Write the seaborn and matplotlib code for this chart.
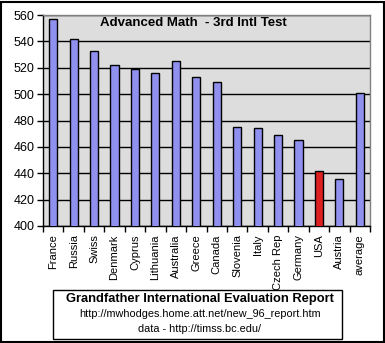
import matplotlib
matplotlib.use("Agg")
import matplotlib.pyplot as plt
import seaborn as sns
import numpy as np
from matplotlib.patches import Rectangle

countries = ["France", "Russia", "Swiss", "Denmark", "Cyprus", "Lithuania", "Australia",
             "Greece", "Canada", "Slovenia", "Italy", "Czech Rep", "Germany", "USA",
             "Austria", "average"]
scores = [557, 542, 533, 522, 519, 516, 525, 513, 509, 475, 474, 469, 465, 442, 436, 501]
highlight = "USA"

sns.set_theme(style="white")
plt.rcParams['font.family'] = ['Liberation Sans', 'DejaVu Sans']

W, H = 385, 343
fig = plt.figure(figsize=(W / 100, H / 100), dpi=100)
fig.patch.set_facecolor("white")
ax = fig.add_axes([43 / W, 1 - 226 / H, 327 / W, 211 / H])
ax.set_facecolor("#DDDDDD")

colors = ["#FF0000" if c == highlight else "#8080FF" for c in countries]
sns.barplot(x=countries, y=scores, hue=countries, palette=colors, width=0.4,
            edgecolor="black", linewidth=1, legend=False, ax=ax, zorder=3)

ax.set_ylim(400, 560)
ax.set_xlim(-0.5, len(countries) - 0.5)
ax.set_yticks(np.arange(400, 561, 20))
ax.yaxis.grid(True, color="black", linewidth=1)
ax.set_axisbelow(True)
ax.tick_params(axis="y", labelsize=9, length=4, width=1, color="black", left=True, pad=2, labelcolor="black")
ax.tick_params(axis="x", which="major", length=0, labelsize=8, pad=6, labelcolor="black")
ax.set_xticks(np.arange(-0.5, len(countries), 1), minor=True)
ax.tick_params(axis="x", which="minor", length=4, width=1, color="black", bottom=True)
for lbl in ax.get_xticklabels():
    lbl.set_rotation(90)
for s in ["left", "bottom"]:
    ax.spines[s].set_color("black")
    ax.spines[s].set_linewidth(1)
for s in ["top", "right"]:
    ax.spines[s].set_color("#808080")
    ax.spines[s].set_linewidth(1)
ax.set_xlabel("")
ax.set_ylabel("")

fig.text(193 / W, 1 - 23 / H, "Advanced Math  - 3rd Intl Test", ha="center", va="center",
         fontsize=9.5, fontweight="bold", color="black")

# outer frame
fig.patches.append(Rectangle((1 / W, 1 / H), (W - 2.5) / W, (H - 2.5) / H, transform=fig.transFigure,
                             fill=False, edgecolor="black", linewidth=1.5))
# footer box
fig.patches.append(Rectangle((53 / W, 1 - 339 / H), 289 / W, 49 / H, transform=fig.transFigure,
                             fill=False, edgecolor="black", linewidth=1))
fig.text(200 / W, 1 - 299 / H, "Grandfather International Evaluation Report", ha="center", va="center",
         fontsize=9.3, fontweight="bold", color="black")
fig.text(200 / W, 1 - 314 / H, "http://mwhodges.home.att.net/new_96_report.htm", ha="center", va="center",
         fontsize=7.8, color="black")
fig.text(200 / W, 1 - 329 / H, "data - http://timss.bc.edu/", ha="center", va="center",
         fontsize=7.8, color="black")

fig.savefig("out.png", dpi=100)
